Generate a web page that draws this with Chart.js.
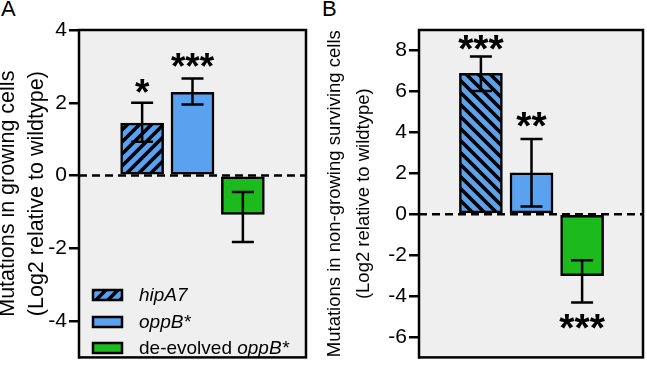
<!DOCTYPE html>
<html>
<head>
<meta charset="utf-8">
<script src="https://cdn.jsdelivr.net/npm/chart.js@4"></script>
<style>
  body { margin: 0; background: #fff; width: 647px; height: 372px; overflow: hidden; position: relative;
         font-family: "Liberation Sans", Arial, sans-serif; }
  .panel { position: absolute; top: 0; }
  .panel canvas { display: block; }
  .lab { position: absolute; top: -4px; font-size: 22px; color: #000; }
</style>
</head>
<body>
<div class="lab" style="left:1px">A</div>
<div class="lab" style="left:322px">B</div>
<div class="panel" style="left:0"><canvas id="chartA" width="320" height="372"></canvas></div>
<div class="panel" style="left:320px"><canvas id="chartB" width="327" height="372"></canvas></div>

<script>
// data
const categories = ['hipA7', 'oppB*', 'de-evolved oppB*'];

const valuesA = [1.44, 2.29, -1.07];
const errLowA = [0.93, 1.95, -1.83];
const errHighA = [2.0, 2.67, -0.45];
const starsA = ['*', '***', ''];
const starPosA = [2.45, 3.15, null];
const ticksA = [4, 2, 0, -2, -4];

const valuesB = [6.88, 2.02, -3.01];
const errLowB = [6.02, 0.38, -4.32];
const errHighB = [7.71, 3.67, -2.25];
const starsB = ['***', '**', '***'];
const starPosB = [8.38, 4.65, -5.23];
const ticksB = [8, 6, 4, 2, 0, -2, -4, -6];

const BLUE = '#5aa2f0';
const GREEN = '#1dba1d';
const FONT = '"Liberation Sans", Arial, sans-serif';

Chart.defaults.font.family = FONT;
Chart.defaults.color = '#000';

// striped fill for hipA7
function makeHatch(dir) {
    const c = document.createElement('canvas');
    c.width = 12; c.height = 12;
    const g = c.getContext('2d');
    g.fillStyle = BLUE;
    g.fillRect(0, 0, 12, 12);
    g.strokeStyle = '#000';
    g.lineWidth = 3.6;
    g.beginPath();
    if (dir === '/') {
        g.moveTo(-6, 6); g.lineTo(6, -6);
        g.moveTo(0, 12); g.lineTo(12, 0);
        g.moveTo(6, 18); g.lineTo(18, 6);
    } else {
        g.moveTo(-6, 6); g.lineTo(6, 18);
        g.moveTo(0, 0); g.lineTo(12, 12);
        g.moveTo(6, -6); g.lineTo(18, 6);
    }
    g.stroke();
    return g.createPattern(c, 'repeat');
}

// grey box, dashed zero line, error bars, stars
const panelPlugin = {
    id: 'panelPlugin',
    beforeDatasetsDraw(chart) {
        const a = chart.chartArea;
        const ctx = chart.ctx;
        ctx.save();
        ctx.fillStyle = '#efefef';
        ctx.fillRect(a.left, a.top, a.right - a.left, a.bottom - a.top);
        ctx.restore();
    },
    afterDatasetsDraw(chart) {
        const a = chart.chartArea;
        const ctx = chart.ctx;
        const x = chart.scales.x, y = chart.scales.y;
        const o = chart.options.plugins.panelPlugin;

        ctx.save();
        // zero line
        ctx.strokeStyle = '#000';
        ctx.lineWidth = 2.5;
        ctx.setLineDash([8, 5]);
        ctx.beginPath();
        ctx.moveTo(a.left, y.getPixelForValue(0));
        ctx.lineTo(a.right, y.getPixelForValue(0));
        ctx.stroke();
        ctx.setLineDash([]);

        // error bars
        o.low.forEach((lo, i) => {
            const px = x.getPixelForValue(i);
            const y1 = y.getPixelForValue(lo);
            const y2 = y.getPixelForValue(o.high[i]);
            ctx.beginPath();
            ctx.moveTo(px, y1); ctx.lineTo(px, y2);
            ctx.moveTo(px - 11, y1); ctx.lineTo(px + 11, y1);
            ctx.moveTo(px - 11, y2); ctx.lineTo(px + 11, y2);
            ctx.stroke();
        });

        // box
        ctx.lineWidth = 2.5;
        ctx.strokeRect(a.left, a.top, a.right - a.left, a.bottom - a.top);

        // significance stars
        ctx.fillStyle = '#000';
        ctx.font = 'bold ' + o.starSize + 'px ' + FONT;
        ctx.textAlign = 'center';
        ctx.textBaseline = 'alphabetic';
        o.stars.forEach((s, i) => {
            if (!s) return;
            ctx.fillText(s, x.getPixelForValue(i), y.getPixelForValue(o.starPos[i]) + o.starSize * 0.5);
        });
        ctx.restore();
    }
};

// legend in panel A, with italic gene names
const legendPlugin = {
    id: 'legendBox',
    afterDraw(chart) {
        const o = chart.options.plugins.legendBox;
        if (!o || !o.show) return;
        const ctx = chart.ctx;
        const fills = [makeHatch('/'), BLUE, GREEN];
        const rows = [295, 322, 348];
        ctx.save();
        ctx.textBaseline = 'middle';
        categories.forEach((c, i) => {
            ctx.fillStyle = fills[i];
            ctx.fillRect(93, rows[i] - 5, 29, 10);
            ctx.strokeStyle = '#000';
            ctx.lineWidth = 2.5;
            ctx.strokeRect(93, rows[i] - 5, 29, 10);
            ctx.fillStyle = '#000';
            let tx = 139;
            if (c.startsWith('de-evolved')) {
                ctx.font = '19px ' + FONT;
                ctx.fillText('de-evolved ', tx, rows[i] + 1);
                tx += ctx.measureText('de-evolved ').width;
                c = 'oppB*';
            }
            ctx.font = 'italic 19px ' + FONT;
            ctx.fillText(c, tx, rows[i] + 1);
        });
        ctx.restore();
    }
};

function makePanel(id, p) {
    const ctx = document.getElementById(id).getContext('2d');
    const fills = [makeHatch(p.hatch), BLUE, GREEN];
    new Chart(ctx, {
        type: 'bar',
        data: {
            datasets: [{
                data: p.values.map((v, i) => ({ x: i, y: v })),
                backgroundColor: fills,
                borderColor: '#000',
                borderWidth: 2.5,
                borderSkipped: false,
                barThickness: 43
            }]
        },
        options: {
            responsive: false,
            animation: false,
            layout: { padding: { left: 0, right: p.padRight, top: 30, bottom: 5 } },
            scales: {
                x: { type: 'linear', min: p.xMin, max: p.xMax, display: false },
                y: {
                    min: p.yMin,
                    max: p.yMax,
                    afterBuildTicks: s => { s.ticks = p.ticks.map(v => ({ value: v })); },
                    afterFit: s => { s.width = p.axisWidth; },
                    ticks: { font: { size: 21 }, color: '#000', padding: 2 },
                    grid: { drawOnChartArea: false, tickLength: 10, color: '#000', lineWidth: 2.5 },
                    border: { display: true, color: '#000', width: 2.5 },
                    title: {
                        display: true,
                        text: p.title,
                        color: '#000',
                        font: { size: p.titleSize, lineHeight: 29 / p.titleSize },
                        padding: { top: p.titlePad, bottom: 0 }
                    }
                }
            },
            plugins: {
                legend: { display: false },
                tooltip: { enabled: false },
                panelPlugin: { low: p.low, high: p.high, stars: p.stars, starPos: p.starPos, starSize: p.starSize },
                legendBox: { show: p.legend }
            }
        },
        plugins: [panelPlugin, legendPlugin]
    });
}

makePanel('chartA', {
    values: valuesA, low: errLowA, high: errHighA, stars: starsA, starPos: starPosA,
    ticks: ticksA, yMin: -5, yMax: 4, xMin: -0.69, xMax: 2.69,
    axisWidth: 79, padRight: 14, hatch: '/', legend: true, starSize: 37,
    titleSize: 21.5, titlePad: -6,
    title: ['Mutations in growing cells', '(Log2 relative to wildtype)']
});

makePanel('chartB', {
    values: valuesB, low: errLowB, high: errHighB, stars: starsB, starPos: starPosB,
    ticks: ticksB, yMin: -7, yMax: 9, xMin: -0.67, xMax: 2.65,
    axisWidth: 99, padRight: 4, hatch: '\\', legend: false, starSize: 39,
    titleSize: 18.5, titlePad: 0,
    title: ['Mutations in non-growing surviving cells', '(Log2 relative to wildtype)']
});
</script>
</body>
</html>
